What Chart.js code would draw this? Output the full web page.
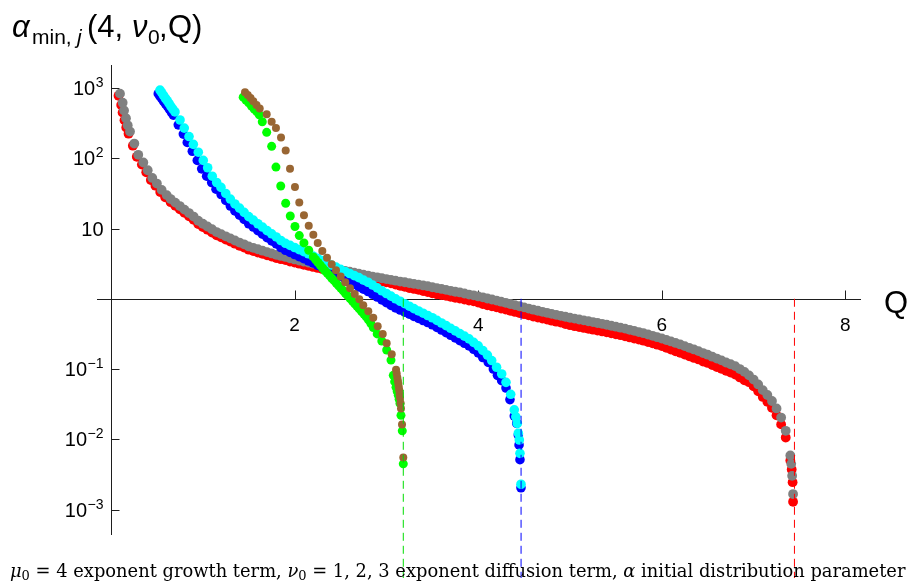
<!DOCTYPE html>
<html>
<head>
<meta charset="utf-8">
<script src="https://cdn.jsdelivr.net/npm/chart.js@4.4.1/dist/chart.umd.min.js"></script>
<style>
    html, body { margin: 0; padding: 0; background: #fff; }
    canvas { display: block; }
</style>
</head>
<body>
<canvas id="alphaChart" width="911" height="583"></canvas>

<script>
    // alpha_min,j(4, nu0, Q) for the three nu0 cases, two branches each

    // branch pair ending near Q = 7.45
    const redQ = [0.082, 0.111, 0.126, 0.147, 0.166, 0.191, 0.238, 0.281, 0.336, 0.384, 0.434, 0.484, 0.536, 0.59,
        0.65, 0.70, 0.75, 0.80, 0.85, 0.90, 0.95, 1.00, 1.05, 1.10, 1.15, 1.20, 1.25, 1.30, 1.35, 1.40, 1.45, 1.50, 1.55, 1.60,
        1.65, 1.70, 1.75, 1.80, 1.85, 1.90, 1.95, 2.00, 2.05, 2.10, 2.15, 2.20, 2.25, 2.30, 2.35, 2.40, 2.45, 2.50, 2.55, 2.60,
        2.65, 2.70, 2.75, 2.80, 2.85, 2.90, 2.95, 3.00, 3.05, 3.10, 3.15, 3.20, 3.25, 3.30, 3.35, 3.40, 3.45, 3.50, 3.55, 3.60,
        3.65, 3.70, 3.75, 3.80, 3.85, 3.90, 3.95, 4.00, 4.05, 4.10, 4.15, 4.20, 4.25, 4.30, 4.35, 4.40, 4.45, 4.50, 4.55, 4.60,
        4.65, 4.70, 4.75, 4.80, 4.85, 4.90, 4.95, 5.00, 5.05, 5.10, 5.15, 5.20, 5.25, 5.30, 5.35, 5.40, 5.45, 5.50, 5.55, 5.60,
        5.65, 5.70, 5.75, 5.80, 5.85, 5.90, 5.95, 6.00, 6.05, 6.10, 6.15, 6.20, 6.25, 6.30, 6.35, 6.40, 6.45, 6.50, 6.55, 6.60,
        6.65, 6.70, 6.75, 6.80, 6.85, 6.90, 6.95, 7.00, 7.05, 7.10, 7.15, 7.20, 7.25, 7.30, 7.35,
        7.40, 7.415, 7.425, 7.43];
    const redA = [776, 575, 447, 347, 275, 224, 151, 105, 81.3, 63.1, 49.0, 40.7, 33.1, 27.9,
        23.7, 21.1, 18.8, 16.7, 14.9, 13.3, 11.6, 10.5, 9.63, 8.79,
        8.02, 7.49, 6.98, 6.52, 6.08, 5.68, 5.36, 5.00, 4.78, 4.56,
        4.36, 4.16, 3.98, 3.80, 3.66, 3.55, 3.38, 3.27, 3.16, 3.05,
        2.94, 2.84, 2.75, 2.66, 2.57, 2.48, 2.40, 2.32, 2.25, 2.19,
        2.12, 2.05, 1.98, 1.93, 1.86, 1.82, 1.76, 1.72, 1.66, 1.59,
        1.53, 1.48, 1.42, 1.38, 1.34, 1.29, 1.25, 1.20, 1.16, 1.13,
        1.10, 1.07, 1.03, 1.01, 0.976, 0.943, 0.918, 0.886, 0.840, 0.808,
        0.782, 0.755, 0.728, 0.702, 0.674, 0.650, 0.626, 0.604, 0.581, 0.560,
        0.541, 0.522, 0.505, 0.488, 0.472, 0.458, 0.438, 0.421, 0.407, 0.395,
        0.385, 0.374, 0.363, 0.353, 0.343, 0.333, 0.322, 0.313, 0.303, 0.293,
        0.282, 0.272, 0.262, 0.253, 0.242, 0.232, 0.222, 0.212, 0.200, 0.189,
        0.179, 0.170, 0.161, 0.152, 0.144, 0.137, 0.128, 0.122, 0.114, 0.107,
        0.101, 0.0942, 0.0889, 0.0836, 0.0760, 0.0693, 0.0650, 0.0566, 0.0482, 0.0401,
        0.0342, 0.0281, 0.0220, 0.0163, 0.0106,
        0.00501, 0.00372, 0.00245, 0.00129];

    const grayQ = [0.098, 0.127, 0.142, 0.163, 0.182, 0.207, 0.254, 0.297, 0.352, 0.40, 0.45, 0.50, 0.552, 0.607,
        0.65, 0.70, 0.75, 0.80, 0.85, 0.90, 0.95, 1.00, 1.05, 1.10, 1.15, 1.20, 1.25, 1.30, 1.35, 1.40, 1.45, 1.50, 1.55, 1.60,
        1.65, 1.70, 1.75, 1.80, 1.85, 1.90, 1.95, 2.00, 2.05, 2.10, 2.15, 2.20, 2.25, 2.30, 2.35, 2.40, 2.45, 2.50, 2.55, 2.60,
        2.65, 2.70, 2.75, 2.80, 2.85, 2.90, 2.95, 3.00, 3.05, 3.10, 3.15, 3.20, 3.25, 3.30, 3.35, 3.40, 3.45, 3.50, 3.55, 3.60,
        3.65, 3.70, 3.75, 3.80, 3.85, 3.90, 3.95, 4.00, 4.05, 4.10, 4.15, 4.20, 4.25, 4.30, 4.35, 4.40, 4.45, 4.50, 4.55, 4.60,
        4.65, 4.70, 4.75, 4.80, 4.85, 4.90, 4.95, 5.00, 5.05, 5.10, 5.15, 5.20, 5.25, 5.30, 5.35, 5.40, 5.45, 5.50, 5.55, 5.60,
        5.65, 5.70, 5.75, 5.80, 5.85, 5.90, 5.95, 6.00, 6.05, 6.10, 6.15, 6.20, 6.25, 6.30, 6.35, 6.40, 6.45, 6.50, 6.55, 6.60,
        6.65, 6.70, 6.75, 6.80, 6.85, 6.90, 6.95, 7.00, 7.05, 7.10, 7.15, 7.20, 7.25, 7.30, 7.35,
        7.40, 7.41, 7.42, 7.43];
    const grayA = [832, 617, 479, 372, 295, 240, 162, 112, 87.1, 67.6, 52.5, 43.7, 35.5, 29.9,
        26.3, 23.4, 20.9, 18.6, 16.6, 14.8, 12.9, 11.7, 10.7, 9.77,
        8.91, 8.32, 7.76, 7.24, 6.76, 6.31, 5.96, 5.56, 5.31, 5.07,
        4.84, 4.62, 4.42, 4.22, 4.07, 3.94, 3.76, 3.63, 3.51, 3.39,
        3.27, 3.16, 3.05, 2.95, 2.85, 2.75, 2.67, 2.58, 2.50, 2.43,
        2.35, 2.28, 2.20, 2.14, 2.07, 2.02, 1.96, 1.91, 1.86, 1.81,
        1.76, 1.72, 1.67, 1.63, 1.59, 1.55, 1.51, 1.46, 1.42, 1.38,
        1.34, 1.30, 1.26, 1.23, 1.19, 1.15, 1.12, 1.08, 1.05, 1.01,
        0.977, 0.944, 0.910, 0.877, 0.843, 0.813, 0.783, 0.755, 0.726, 0.700,
        0.676, 0.653, 0.631, 0.610, 0.590, 0.573, 0.555, 0.537, 0.522, 0.507,
        0.493, 0.479, 0.466, 0.452, 0.440, 0.427, 0.413, 0.401, 0.388, 0.376,
        0.362, 0.349, 0.336, 0.324, 0.310, 0.297, 0.284, 0.272, 0.259, 0.247,
        0.235, 0.224, 0.212, 0.200, 0.190, 0.180, 0.169, 0.160, 0.150, 0.141,
        0.133, 0.124, 0.117, 0.110, 0.100, 0.0912, 0.0813, 0.0708, 0.0603, 0.0501,
        0.0427, 0.0351, 0.0275, 0.0204, 0.0132,
        0.00589, 0.00447, 0.00302, 0.00166];

    // branch pair ending near Q = 4.47
    const blueQ = [0.515, 0.533, 0.553, 0.573, 0.594, 0.615, 0.636, 0.658, 0.679, 0.733, 0.788, 0.831, 0.886, 0.94, 0.988, 1.042, 1.097, 1.144,
        1.20, 1.25, 1.30, 1.35, 1.40, 1.45, 1.50, 1.55, 1.60, 1.65,
        1.70, 1.75, 1.80, 1.85, 1.90, 1.95, 2.00, 2.05, 2.10, 2.15,
        2.20, 2.25, 2.30, 2.35, 2.40, 2.45, 2.50, 2.55, 2.60, 2.65,
        2.70, 2.75, 2.80, 2.85, 2.90, 2.95, 3.00, 3.05, 3.10, 3.15,
        3.20, 3.25, 3.30, 3.35, 3.40, 3.45, 3.50, 3.55, 3.60, 3.65,
        3.70, 3.75, 3.80, 3.85, 3.90, 3.95, 4.00, 4.05,
        4.11, 4.165, 4.21, 4.256, 4.303, 4.346, 4.393, 4.42, 4.437, 4.445, 4.455, 4.466];
    const blueA = [832, 767, 708, 646, 596, 550, 501, 452, 412, 299, 221, 168, 126, 93.3, 70.8, 55.6, 45.2, 36.3,
        30.5, 25.1, 20.9, 17.8, 15.5, 13.5, 11.7, 10.5, 9.33, 8.32,
        7.41, 6.68, 6.03, 5.37, 4.90, 4.57, 4.27, 3.98, 3.72, 3.47,
        3.24, 3.00, 2.79, 2.58, 2.40, 2.24, 2.09, 1.92, 1.74, 1.60,
        1.48, 1.37, 1.27, 1.16, 1.06, 0.966, 0.881, 0.807, 0.741, 0.692,
        0.646, 0.603, 0.562, 0.525, 0.490, 0.459, 0.427, 0.392, 0.359, 0.330,
        0.302, 0.277, 0.254, 0.233, 0.214, 0.191, 0.170, 0.146,
        0.124, 0.100, 0.0813, 0.0684, 0.0537, 0.0367, 0.0214, 0.0168, 0.0115, 0.00832, 0.00513, 0.00204];

    const cyanQ = [0.534, 0.552, 0.572, 0.592, 0.612, 0.632, 0.652, 0.674, 0.697, 0.752, 0.798, 0.85, 0.897, 0.951, 1.005, 1.053, 1.103, 1.151, 1.198,
        1.25, 1.30, 1.35, 1.40, 1.45, 1.50, 1.55, 1.60, 1.65, 1.70,
        1.75, 1.80, 1.85, 1.90, 1.95, 2.00, 2.05, 2.10, 2.15, 2.20,
        2.25, 2.30, 2.35, 2.40, 2.45, 2.50, 2.55, 2.60, 2.65, 2.70,
        2.75, 2.80, 2.85, 2.90, 2.95, 3.00, 3.05, 3.10, 3.15, 3.20,
        3.25, 3.30, 3.35, 3.40, 3.45, 3.50, 3.55, 3.60, 3.65, 3.70,
        3.75, 3.80, 3.85, 3.90, 3.95, 4.00, 4.05, 4.10,
        4.147, 4.20, 4.256, 4.303, 4.354, 4.393, 4.41, 4.426, 4.437, 4.448, 4.455, 4.466];
    const cyanA = [933, 861, 785, 716, 661, 603, 550, 501, 457, 351, 269, 204, 158, 122, 93.3, 73.3, 55.6, 45.2, 38.5,
        31.6, 26.3, 22.4, 19.5, 17.0, 14.8, 13.2, 11.7, 10.5, 9.33,
        8.41, 7.59, 6.76, 6.17, 5.75, 5.37, 5.01, 4.68, 4.37, 4.07,
        3.78, 3.51, 3.25, 3.02, 2.82, 2.63, 2.45, 2.29, 2.14, 2.00,
        1.85, 1.72, 1.57, 1.43, 1.30, 1.19, 1.09, 1.00, 0.923, 0.851,
        0.785, 0.724, 0.671, 0.624, 0.578, 0.537, 0.493, 0.452, 0.415, 0.380,
        0.349, 0.320, 0.294, 0.269, 0.240, 0.214, 0.184, 0.158,
        0.132, 0.106, 0.0851, 0.0646, 0.0437, 0.0263, 0.0209, 0.0168, 0.0122, 0.00977, 0.00631, 0.00229];

    // branch pair ending near Q = 3.18
    const greenQ = [1.44, 1.47, 1.50, 1.53, 1.56, 1.59, 1.615, 1.648, 1.696, 1.75, 1.797, 1.849, 1.903, 1.953,
        2.004, 2.051, 2.102, 2.154, 2.204,
        2.23, 2.255, 2.28, 2.305, 2.33, 2.355, 2.38, 2.405, 2.43, 2.455,
        2.48, 2.505, 2.53, 2.555, 2.58, 2.605, 2.63, 2.655, 2.68, 2.705,
        2.73, 2.755, 2.78, 2.805, 2.83,
        2.857, 2.90, 2.95, 3.003, 3.05, 3.075, 3.09, 3.105, 3.118, 3.13, 3.139, 3.148, 3.159, 3.173, 3.184];
    const greenA = [741, 676, 617, 556, 501, 457, 417, 331, 234, 148, 75.0, 40.3, 22.9, 15.1,
        10.7, 7.94, 6.24, 4.90, 3.95,
        3.60, 3.29, 3.00, 2.74, 2.51, 2.32, 2.14, 1.96, 1.81, 1.66,
        1.53, 1.41, 1.30, 1.19, 1.10, 1.01, 0.927, 0.851, 0.782, 0.718,
        0.659, 0.605, 0.556, 0.501, 0.447,
        0.389, 0.316, 0.251, 0.187, 0.134, 0.0813, 0.0661, 0.0550, 0.0479, 0.0422, 0.0372, 0.0324, 0.0219, 0.0132, 0.00447];

    const brownQ = [1.46, 1.49, 1.52, 1.55, 1.585, 1.62, 1.696, 1.75, 1.797, 1.852, 1.903, 1.95,
        2.004, 2.051, 2.102, 2.154, 2.204, 2.252, 2.302, 2.353, 2.404, 2.451, 2.502, 2.552,
        2.604, 2.655, 2.705, 2.748, 2.803, 2.857, 2.905, 2.96, 3.003, 3.058,
        3.105, 3.112, 3.119, 3.125, 3.13, 3.135, 3.14, 3.144, 3.148, 3.154, 3.159, 3.17, 3.184];
    const brownA = [871, 794, 724, 646, 575, 513, 422, 331, 269, 197, 129, 70.8,
        38.9, 23.4, 15.5, 11.0, 8.13, 6.24, 4.79, 3.83, 3.11, 2.54, 2.07, 1.72,
        1.41, 1.17, 0.982, 0.807, 0.665, 0.537, 0.407, 0.316, 0.232, 0.162,
        0.0977, 0.0861, 0.0759, 0.0684, 0.0617, 0.0556, 0.0501, 0.0442, 0.0389, 0.0327, 0.0275, 0.0162, 0.0055];

    // Q where each pair runs out (dashed markers)
    const limitQ = [3.184, 4.467, 7.445];

    const xTicks = [2, 4, 6, 8];
    const xTickLabels = ['2', '4', '6', '8'];
    const yTicks = [1000, 100, 10, 0.1, 0.01, 0.001];
    const yTickPowers = ['3', '2', '', '\u22121', '\u22122', '\u22123'];

    const xMin = -0.1525, xMax = 8.17;
    const yMin = 1.057e-4, yMax = 2128;
    const yAxisEnd = 4.3e-4;

    function toPoints(qs, as) {
        return qs.map(function (q, i) { return {x: q, y: as[i]}; });
    }

    function dots(qs, as, color, r, order) {
        return {
            data: toPoints(qs, as),
            backgroundColor: color,
            borderWidth: 0,
            pointBorderWidth: 0,
            pointRadius: r,
            pointHoverRadius: r,
            showLine: false,
            order: order
        };
    }

    function limitLine(q, color) {
        return {
            data: [{x: q, y: 1}, {x: q, y: yMin}],
            borderColor: color,
            borderWidth: 1,
            borderDash: [8, 5],
            pointRadius: 0,
            showLine: true,
            fill: false,
            order: 0
        };
    }

    const SANS = '"Liberation Sans", Arial, sans-serif';
    const SERIF = '"DejaVu Serif", "Liberation Serif", serif';

    // draws a list of text runs, each with its own font and baseline shift
    function drawRuns(ctx, runs, x, y) {
        runs.forEach(function (r) {
            ctx.font = r.font;
            const xx = (r.at !== undefined) ? r.at : x;
            ctx.fillText(r.text, xx, y + (r.dy || 0));
            x = xx + ctx.measureText(r.text).width + (r.gap || 0);
        });
        return x;
    }

    const crossAxes = {
        id: 'crossAxes',
        beforeDatasetsDraw(chart) {
            const ctx = chart.ctx;
            const xs = chart.scales.x, ys = chart.scales.y;
            const area = chart.chartArea;
            const ox = Math.round(xs.getPixelForValue(0)) + 0.5;
            const oy = Math.round(ys.getPixelForValue(1)) + 0.5;

            ctx.save();
            ctx.strokeStyle = '#1e1e1e';
            ctx.lineWidth = 1;
            ctx.beginPath();
            ctx.moveTo(area.left, oy);
            ctx.lineTo(area.right, oy);
            ctx.moveTo(ox, area.top);
            ctx.lineTo(ox, Math.round(ys.getPixelForValue(yAxisEnd)));
            xTicks.forEach(function (v) {
                const p = Math.round(xs.getPixelForValue(v)) + 0.5;
                ctx.moveTo(p, oy);
                ctx.lineTo(p, oy - 9);
            });
            yTicks.forEach(function (v) {
                const p = Math.round(ys.getPixelForValue(v)) + 0.5;
                ctx.moveTo(ox, p);
                ctx.lineTo(ox + 8, p);
            });
            ctx.stroke();

            ctx.fillStyle = '#000';
            ctx.textBaseline = 'alphabetic';
            ctx.textAlign = 'center';
            ctx.font = '19px ' + SANS;
            xTicks.forEach(function (v, i) {
                ctx.fillText(xTickLabels[i], xs.getPixelForValue(v), oy + 31);
            });

            ctx.textAlign = 'right';
            const right = ox - 8;
            yTicks.forEach(function (v, i) {
                const p = ys.getPixelForValue(v);
                let w = 0;
                if (yTickPowers[i]) {
                    ctx.font = '14px ' + SANS;
                    ctx.fillText(yTickPowers[i], right, p - 1);
                    w = ctx.measureText(yTickPowers[i]).width + 0.5;
                }
                ctx.font = '20px ' + SANS;
                ctx.fillText('10', right - w, p + 7);
            });
            ctx.restore();
        }
    };

    const labels = {
        id: 'labels',
        afterDraw(chart) {
            const ctx = chart.ctx;
            ctx.save();
            ctx.fillStyle = '#000';
            ctx.textAlign = 'left';
            ctx.textBaseline = 'alphabetic';

            // plot label, top left
            const big = '31px ' + SANS, bigI = 'italic 31px ' + SANS;
            const sub = '21px ' + SANS, subI = 'italic 21px ' + SANS;
            drawRuns(ctx, [
                {text: '\u03b1', font: bigI, at: 12},
                {text: 'min,', font: sub, dy: 7, at: 32},
                {text: 'j', font: subI, dy: 7, at: 77},
                {text: '(4, ', font: big, at: 87},
                {text: '\u03bd', font: bigI, at: 132},
                {text: '0', font: sub, dy: 7, at: 148},
                {text: ',', font: big, at: 159},
                {text: 'Q)', font: big, at: 168}
            ], 12, 37);

            // horizontal axis label
            ctx.font = '31px ' + SANS;
            ctx.fillText('Q', 884, 313);

            // caption along the bottom, sized to span the plot width
            const runs = [
                {text: '\u03bc', style: 'italic '},
                {text: '0', sub: true},
                {text: ' = 4 exponent growth term, '},
                {text: '\u03bd', style: 'italic '},
                {text: '0', sub: true},
                {text: ' = 1, 2, 3 exponent diffusion term, '},
                {text: '\u03b1', style: 'italic '},
                {text: ' initial distribution parameter'}
            ];
            function fontFor(r, size) {
                return (r.style || '') + (r.sub ? Math.round(size * 0.7) : size) + 'px ' + SERIF;
            }
            let natural = 0;
            runs.forEach(function (r) {
                ctx.font = fontFor(r, 16);
                natural += ctx.measureText(r.text).width;
            });
            const size = Math.min(18, 16 * 895 / natural);
            let x = 10;
            runs.forEach(function (r) {
                ctx.font = fontFor(r, size);
                ctx.fillText(r.text, x, 577 + (r.sub ? 3 : 0));
                x += ctx.measureText(r.text).width;
            });
            ctx.restore();
        }
    };

    new Chart(document.getElementById('alphaChart'), {
        type: 'scatter',
        data: {
            datasets: [
                dots(redQ, redA, '#ff0000', 4.9, 6),
                dots(grayQ, grayA, '#808080', 4.9, 5),
                dots(blueQ, blueA, '#0000ff', 4.8, 4),
                dots(cyanQ, cyanA, '#00ffff', 4.8, 3),
                dots(greenQ, greenA, '#00ff00', 4.5, 2),
                dots(brownQ, brownA, '#996633', 4.0, 1),
                limitLine(limitQ[0], '#00dd00'),
                limitLine(limitQ[1], '#0000ff'),
                limitLine(limitQ[2], '#ff0000')
            ]
        },
        options: {
            responsive: false,
            animation: false,
            devicePixelRatio: 1,
            layout: {padding: {left: 97, right: 50, top: 65, bottom: 0}},
            scales: {
                x: {type: 'linear', min: xMin, max: xMax, display: false},
                y: {type: 'logarithmic', min: yMin, max: yMax, display: false}
            },
            plugins: {
                legend: {display: false},
                tooltip: {enabled: false}
            }
        },
        plugins: [crossAxes, labels]
    });
</script>
</body>
</html>
